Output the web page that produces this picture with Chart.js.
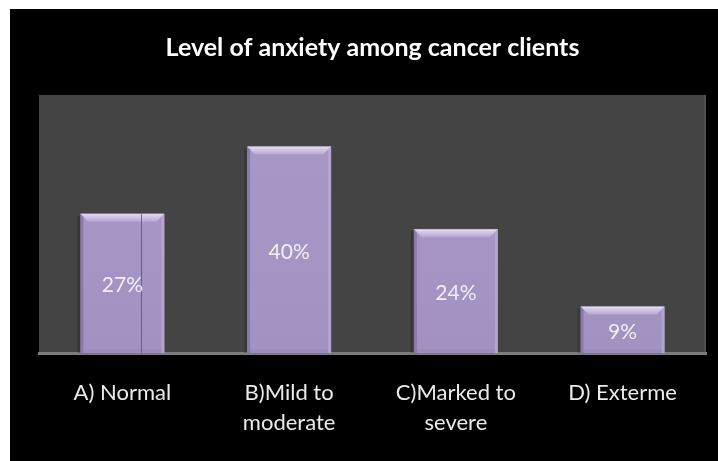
<!DOCTYPE html>
<html>
<head>
<meta charset="utf-8">
<script src="https://cdn.jsdelivr.net/npm/chart.js@4.4.0/dist/chart.umd.min.js"></script>
<style>
html,body{margin:0;padding:0;background:#ffffff;width:718px;height:461px;overflow:hidden;}
#wrap{position:absolute;left:10px;top:9px;width:708px;height:452px;background:#000000;}
canvas{display:block;}
</style>
</head>
<body>
<div id="wrap"><canvas id="c" width="708" height="452"></canvas></div>
<script>
const titleText = 'Level of anxiety among cancer clients';
const categories = [['A) Normal'], ['B)Mild to', 'moderate'], ['C)Marked to', 'severe'], ['D) Exterme']];
const values = [27, 40, 24, 9];
const valueLabels = ['27%', '40%', '24%', '9%'];
const yMin = 0;
const yMax = 50;

const FONT = 'Lato, "Open Sans", sans-serif';

const plotBg = {
  id: 'plotBg',
  beforeDraw(chart) {
    const {ctx, chartArea: a} = chart;
    ctx.save();
    ctx.fillStyle = '#444444';
    ctx.fillRect(a.left, a.top, a.right - a.left, a.bottom - a.top);
    ctx.fillStyle = 'rgba(255,255,255,0.06)';
    ctx.fillRect(a.right - 2, a.top, 2, a.bottom - a.top);
    ctx.restore();
  }
};

const bevel = {
  id: 'bevel',
  afterDatasetsDraw(chart) {
    const {ctx} = chart;
    const meta = chart.getDatasetMeta(0);
    ctx.save();
    meta.data.forEach((bar, i) => {
      const w = bar.width;
      const l = bar.x - w / 2, r = bar.x + w / 2;
      const t = bar.y, b = bar.base;
      const bv = 8;
      // soft shadow on the left of the bar
      ctx.fillStyle = 'rgba(0,0,0,0.18)';
      ctx.fillRect(l - 3, t + 2, 3, b - t - 2);
      // top bevel
      const g = ctx.createLinearGradient(0, t, 0, t + bv);
      g.addColorStop(0, '#e6daf2');
      g.addColorStop(1, '#b6a6d2');
      ctx.fillStyle = g;
      ctx.beginPath();
      ctx.moveTo(l, t);
      ctx.lineTo(r, t);
      ctx.lineTo(r - bv, t + bv);
      ctx.lineTo(l + bv, t + bv);
      ctx.closePath();
      ctx.fill();
      // left edge
      ctx.fillStyle = 'rgba(120,100,150,0.55)';
      ctx.beginPath();
      ctx.moveTo(l, t);
      ctx.lineTo(l + 3, t + 3);
      ctx.lineTo(l + 3, b);
      ctx.lineTo(l, b);
      ctx.closePath();
      ctx.fill();
      // right edge
      ctx.fillStyle = 'rgba(200,185,225,0.45)';
      ctx.beginPath();
      ctx.moveTo(r, t);
      ctx.lineTo(r - 3, t + 3);
      ctx.lineTo(r - 3, b);
      ctx.lineTo(r, b);
      ctx.closePath();
      ctx.fill();
      // bottom faint
      ctx.fillStyle = 'rgba(150,130,185,0.35)';
      ctx.fillRect(l + 3, b - 4, w - 6, 4);
      if (i === 0) {
        ctx.strokeStyle = 'rgba(95,80,120,0.8)';
        ctx.lineWidth = 1;
        const xl = Math.round(l + w * 0.72) + 0.5;
        ctx.beginPath();
        ctx.moveTo(xl, t);
        ctx.lineTo(xl, b);
        ctx.stroke();
      }
      // value label
      ctx.fillStyle = '#f2eef8';
      ctx.font = '21px ' + FONT;
      ctx.textAlign = 'center';
      ctx.textBaseline = 'middle';
      ctx.fillText(valueLabels[i], bar.x, (t + b) / 2 + 2);
    });
    ctx.restore();
  }
};

new Chart(document.getElementById('c'), {
  type: 'bar',
  data: {
    labels: categories,
    datasets: [{
      data: values,
      backgroundColor: (ctx) => {
        const c = ctx.chart;
        const a = c.chartArea;
        if (!a) return '#a898c8';
        const g = c.ctx.createLinearGradient(0, a.top, 0, a.bottom);
        g.addColorStop(0, '#a999c9');
        g.addColorStop(1, '#a292c2');
        return g;
      },
      borderWidth: 0,
      categoryPercentage: 1.0,
      barPercentage: 0.504
    }]
  },
  options: {
    responsive: false,
    animation: false,
    layout: {padding: {left: 29, right: 12, top: 0, bottom: 0}},
    plugins: {
      legend: {display: false},
      tooltip: {enabled: false},
      title: {
        display: true,
        text: titleText,
        color: '#ffffff',
        font: {family: FONT, size: 25, weight: 'bold', lineHeight: 1.2},
        padding: {top: 24, bottom: 32}
      }
    },
    scales: {
      x: {
        grid: {display: false, drawTicks: false},
        border: {display: true, color: '#7c7c7c', width: 3},
        ticks: {
          color: '#ebebeb',
          font: {family: FONT, size: 22, lineHeight: 1.364},
          padding: 25,
          maxRotation: 0,
          autoSkip: false
        },
        afterFit(scale) { scale.height = 108; }
      },
      y: {
        display: false,
        min: yMin,
        max: yMax
      }
    }
  },
  plugins: [plotBg, bevel]
});
</script>
</body>
</html>
